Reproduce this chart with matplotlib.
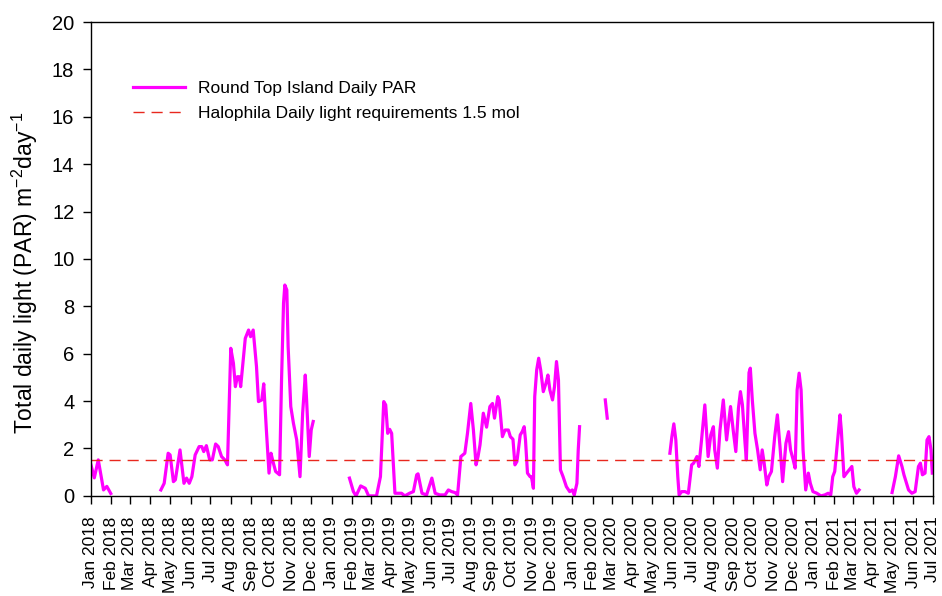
import numpy as np
import pandas as pd
import matplotlib
matplotlib.use('Agg')
import matplotlib.pyplot as plt
import matplotlib.dates as mdates

plt.rcParams['font.family'] = ['Liberation Sans', 'DejaVu Sans']
plt.rcParams['mathtext.fontset'] = 'custom'
plt.rcParams['mathtext.rm'] = 'Liberation Sans'

# days since 1 Jan 2018, nan = no logger data
day = [0, 5, 11, 19, 24, 30, 60,
       106, 111, 117, 120, 125, 128, 135, 141, 145, 149, 153, 158, 164, 168,
       171, 175, 180, 184, 189, 193, 198, 203, 207, 212, 216, 219, 222, 225,
       227, 234, 239, 242, 246, 251, 254, 259, 262, 266, 270, 273, 276, 280,
       286, 289, 292, 294, 297, 299, 303, 307, 312, 317, 321, 325, 327, 331,
       334, 337, 360,
       392, 398, 402, 409, 416, 421, 433, 439, 444, 447, 450, 453, 456, 461,
       466, 471, 476, 483, 489, 494, 496, 502, 509, 517, 522, 529, 537, 542,
       547, 552, 556, 561, 567, 571, 576, 580, 584, 587, 590, 595, 600, 605,
       609, 612, 617, 619, 624, 628, 633, 636, 640, 643, 646, 651, 654, 657,
       659, 662, 666, 668, 671, 673, 676, 679, 682, 686, 690, 693, 696, 700,
       703, 706, 709, 712, 716, 721, 726, 730, 733, 737, 739, 741, 760,
       780, 783, 830,
       878, 881, 884, 887, 890, 892, 896, 901, 906, 911, 914, 919, 922, 926,
       931, 936, 940, 944, 946, 950, 954, 959, 964, 970, 974, 978, 982, 985,
       988, 992, 994, 998, 1000, 1003, 1007, 1011, 1015, 1018, 1021, 1025,
       1028, 1032, 1037, 1041, 1045, 1049, 1054, 1058, 1061, 1065, 1068, 1071,
       1074, 1077, 1080, 1084, 1088, 1091, 1095, 1101, 1107, 1113, 1118, 1122,
       1125, 1128, 1132, 1136, 1138, 1142, 1146, 1150, 1154, 1157, 1161, 1165,
       1190,
       1215, 1220, 1225, 1230, 1233, 1240, 1245, 1250, 1255, 1258, 1261, 1265,
       1268, 1271, 1274, 1276]
par = [1.3, 0.76, 1.52, 0.25, 0.4, 0.1, np.nan,
       0.25, 0.53, 1.8, 1.73, 0.6, 0.68, 1.94, 0.53, 0.75, 0.53, 0.81, 1.73,
       2.08, 2.08, 1.87, 2.12, 1.52, 1.52, 2.19, 2.08, 1.66, 1.52, 1.31, 6.23,
       5.6, 4.61, 5.03, 5.03, 4.61, 6.65, 7.0, 6.72, 7.0, 5.46, 3.98, 4.05,
       4.73, 2.78, 0.96, 1.8, 1.45, 1.03, 0.89, 4.89, 8.13, 8.9, 8.69, 6.3,
       3.77, 3.07, 2.36, 0.81, 3.49, 5.1, 4.05, 1.66, 2.78, 3.14, np.nan,
       0.75, 0.18, 0.0, 0.42, 0.32, 0.0, 0.0, 0.81, 3.98, 3.84, 2.64, 2.81,
       2.64, 0.11, 0.11, 0.11, 0.0, 0.11, 0.18, 0.89, 0.93, 0.11, 0.04, 0.75,
       0.11, 0.04, 0.04, 0.25, 0.18, 0.14, 0.04, 1.66, 1.8, 2.64, 3.9, 2.78,
       1.31, 1.66, 2.15, 3.49, 2.9, 3.77, 3.9, 3.28, 4.19, 4.05, 2.5, 2.78,
       2.78, 2.5, 2.39, 1.31, 1.45, 2.57, 2.71, 2.92, 2.36, 0.96, 0.81, 0.81,
       0.32, 4.19, 5.32, 5.81, 5.32, 4.4, 4.75, 5.1, 4.47, 4.05, 4.61, 5.67,
       4.89, 1.1, 0.81, 0.39, 0.18, 0.25, 0.04, 0.53, 1.94, 2.92, np.nan,
       4.05, 3.28, np.nan,
       1.8, 2.5, 3.04, 2.36, 0.81, 0.04, 0.18, 0.18, 0.11, 1.31, 1.38, 1.66,
       1.24, 2.36, 3.84, 1.66, 2.57, 2.92, 1.94, 1.17, 2.78, 4.05, 2.36, 3.77,
       2.78, 1.87, 3.7, 4.4, 3.84, 2.22, 1.52, 5.2, 5.39, 4.05, 2.64, 1.94,
       1.1, 1.94, 1.38, 0.46, 0.81, 1.03, 2.5, 3.42, 2.08, 0.6, 2.22, 2.71,
       1.94, 1.52, 1.17, 4.47, 5.18, 4.47, 1.94, 0.25, 0.96, 0.53, 0.18, 0.11,
       0.0, 0.04, 0.11, 0.04, 0.81, 1.03, 2.22, 3.42, 2.78, 0.81, 0.96, 1.1,
       1.24, 0.39, 0.11, 0.25, np.nan,
       0.14, 0.81, 1.69, 1.24, 0.89, 0.25, 0.11, 0.18, 1.24, 1.38, 0.89, 0.96,
       2.36, 2.5, 1.94, 0.96]
requirement = 1.5

dates = pd.Timestamp('2018-01-01') + pd.to_timedelta(day, unit='D')

fig = plt.figure(figsize=(9.42, 5.96), dpi=100)
ax = fig.add_axes([0.0966, 0.168, 0.8938, 0.795])

ax.plot(dates, par, color='#ff00ff', lw=2.3, label='Round Top Island Daily PAR')
ax.axhline(requirement, color='#e8281e', lw=1.0, dashes=(8, 5),
           label='Halophila Daily light requirements 1.5 mol')

ax.set_xlim(pd.Timestamp('2018-01-01'), pd.Timestamp('2021-07-01'))
ax.set_ylim(0, 20)
ax.set_yticks(np.arange(0, 21, 2))
ax.xaxis.set_major_locator(mdates.MonthLocator())
ax.xaxis.set_major_formatter(mdates.DateFormatter('%b %Y'))
plt.setp(ax.get_xticklabels(), rotation=90, ha='center', fontsize=12.5)
plt.setp(ax.get_yticklabels(), fontsize=14.5)
ax.tick_params(direction='out', length=6, width=1)
ax.tick_params(axis='x', pad=9)
ax.tick_params(axis='y', pad=6)
for s in ax.spines.values():
    s.set_linewidth(1.0)

ax.set_ylabel('Total daily light (PAR) m$^{\\mathregular{-2}}$day$^{\\mathregular{-1}}$',
              fontsize=16.5)
ax.yaxis.set_label_coords(-0.061, 0.47)

ax.legend(loc='upper left', bbox_to_anchor=(0.042, 0.89), frameon=False,
          fontsize=12.5, handlelength=3.0, handletextpad=0.75,
          borderaxespad=0, labelspacing=0.55)

fig.savefig('out.png', dpi=100)
